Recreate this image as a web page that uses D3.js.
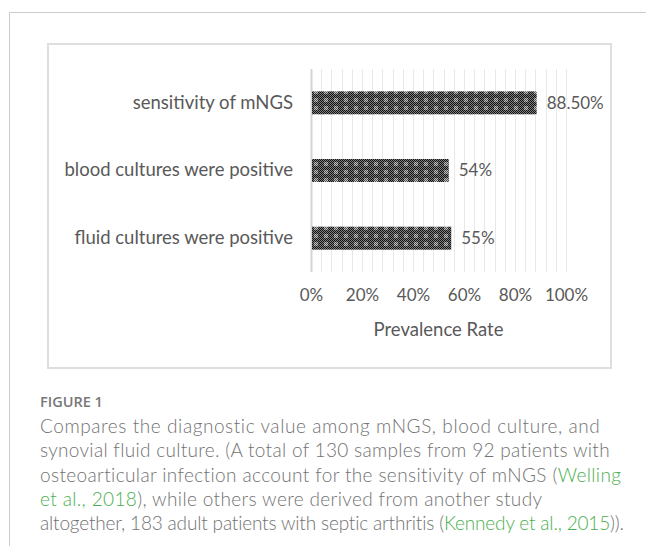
<!DOCTYPE html>
<html>
<head>
<meta charset="utf-8">
<script src="https://cdn.jsdelivr.net/npm/d3@7"></script>
<style>
  body { margin: 0; background: #fff; }
  svg { display: block; }
</style>
</head>
<body>
<svg id="chart" width="646" height="546"></svg>
<script>
// ---- data ----
const categories = ["sensitivity of mNGS", "blood cultures were positive", "fluid cultures were positive"];
const values = [0.885, 0.54, 0.55];
const valueLabels = ["88.50%", "54%", "55%"];
const xTicks = [0, 0.2, 0.4, 0.6, 0.8, 1.0];
const xTitle = "Prevalence Rate";

const figureLabel = "FIGURE 1";
const captionLines = [
    [["Compares the diagnostic value among mNGS, blood culture, and", false]],
    [["synovial fluid culture. (A total of 130 samples from 92 patients with", false]],
    [["osteoarticular infection account for the sensitivity of mNGS (", false], ["Welling", true]],
    [["et al., 2018", true], ["), while others were derived from another study", false]],
    [["altogether, 183 adult patients with septic arthritis (", false], ["Kennedy et al., 2015", true], [")).", false]]
];

const svg = d3.select("#chart");
const textGray = "#595959";
const chartFont = "Lato, 'Open Sans', sans-serif";

// outer frame (left + top only)
svg.append("path")
    .attr("d", "M9.5,546 V12.5 H646")
    .attr("fill", "none")
    .attr("stroke", "#cccccc");

// chart box
svg.append("rect")
    .attr("x", 48).attr("y", 44)
    .attr("width", 563).attr("height", 324)
    .attr("fill", "#fff")
    .attr("stroke", "#dedede")
    .attr("stroke-width", 2);

// ---- patterns for bars ----
const defs = svg.append("defs");
function checker(id, bg, fg) {
    const p = defs.append("pattern")
        .attr("id", id).attr("width", 2).attr("height", 2)
        .attr("patternUnits", "userSpaceOnUse");
    p.append("rect").attr("width", 2).attr("height", 2).attr("fill", bg);
    p.append("rect").attr("width", 1).attr("height", 1).attr("fill", fg);
    p.append("rect").attr("x", 1).attr("y", 1).attr("width", 1).attr("height", 1).attr("fill", fg);
}
checker("fineDark", "#7c7c7c", "#141414");
checker("fineLight", "#c4c4c4", "#4a4a4a");

const blocks = defs.append("pattern")
    .attr("id", "barFill").attr("width", 10).attr("height", 8)
    .attr("patternUnits", "userSpaceOnUse");
blocks.append("rect").attr("width", 10).attr("height", 8).attr("fill", "url(#fineDark)");
blocks.append("rect").attr("x", 4).attr("y", 2).attr("width", 4).attr("height", 4).attr("fill", "url(#fineLight)");

// ---- scales ----
const x = d3.scaleLinear().domain([0, 1]).range([311, 566]);
const y = d3.scaleBand().domain(categories).range([69, 272]).paddingInner(0.66).paddingOuter(0.33);

// gridlines every 4%
const gridVals = d3.range(0, 26).map(i => i * 0.04);
svg.append("g")
    .selectAll("line")
    .data(gridVals)
    .join("line")
    .attr("x1", d => Math.round(x(d)) + 0.5)
    .attr("x2", d => Math.round(x(d)) + 0.5)
    .attr("y1", 69).attr("y2", 272)
    .attr("stroke", d => d === 0 ? "#d4d4d4" : "#e8e8e8")
    .attr("stroke-width", d => d === 0 ? 2 : 1);

// bars
svg.append("g")
    .selectAll("rect")
    .data(categories)
    .join("rect")
    .attr("x", x(0) + 1)
    .attr("y", d => y(d))
    .attr("width", (d, i) => x(values[i]) - x(0) - 1)
    .attr("height", y.bandwidth())
    .attr("fill", "url(#barFill)");

// value labels
svg.append("g")
    .selectAll("text")
    .data(categories)
    .join("text")
    .attr("x", (d, i) => x(values[i]) + 10)
    .attr("y", d => y(d) + y.bandwidth() / 2)
    .attr("dy", "0.35em")
    .attr("font-family", chartFont)
    .attr("font-size", 17)
    .attr("fill", textGray)
    .text((d, i) => valueLabels[i]);

// category axis (labels only)
const yAxis = svg.append("g")
    .attr("transform", "translate(293,0)")
    .call(d3.axisLeft(y).tickSize(0).tickPadding(0));
yAxis.select(".domain").remove();
yAxis.selectAll("text")
    .attr("font-family", chartFont)
    .attr("font-size", 18.5)
    .attr("fill", textGray);

// x axis (labels only)
const xAxis = svg.append("g")
    .attr("transform", "translate(0,289)")
    .call(d3.axisBottom(x).tickValues(xTicks).tickSize(0).tickPadding(0).tickFormat(d3.format(".0%")));
xAxis.select(".domain").remove();
xAxis.selectAll("text")
    .attr("font-family", chartFont)
    .attr("font-size", 17)
    .attr("fill", textGray);

svg.append("text")
    .attr("x", (x(0) + x(1)) / 2)
    .attr("y", 336)
    .attr("text-anchor", "middle")
    .attr("font-family", chartFont)
    .attr("font-size", 18.5)
    .attr("fill", textGray)
    .text(xTitle);

// ---- caption ----
svg.append("text")
    .attr("x", 40).attr("y", 407)
    .attr("font-family", "'Open Sans', 'Noto Sans', sans-serif")
    .attr("font-weight", 600)
    .attr("font-size", 14.5)
    .attr("fill", "#777")
    .text(figureLabel);

// approximate line widths in the figure, used to spread letters a little
const capWidths = [560, 570, 582, 502, 585];
captionLines.forEach((parts, i) => {
    const t = svg.append("text")
        .attr("x", 40)
        .attr("y", 433 + i * 24.3)
        .attr("font-family", "Lato, 'Open Sans', sans-serif")
        .attr("font-weight", 300)
        .attr("font-size", 19)
        .attr("fill", "#727272");
    parts.forEach(([s, green]) => {
        t.append("tspan").attr("fill", green ? "#4caf50" : "#727272").text(s);
    });
    const n = parts.map(p => p[0]).join("").length;
    const w = t.node().getComputedTextLength();
    const ls = Math.max(-0.5, Math.min(1, (capWidths[i] - w) / (n - 1)));
    t.attr("letter-spacing", ls.toFixed(3));
});
</script>
</body>
</html>
